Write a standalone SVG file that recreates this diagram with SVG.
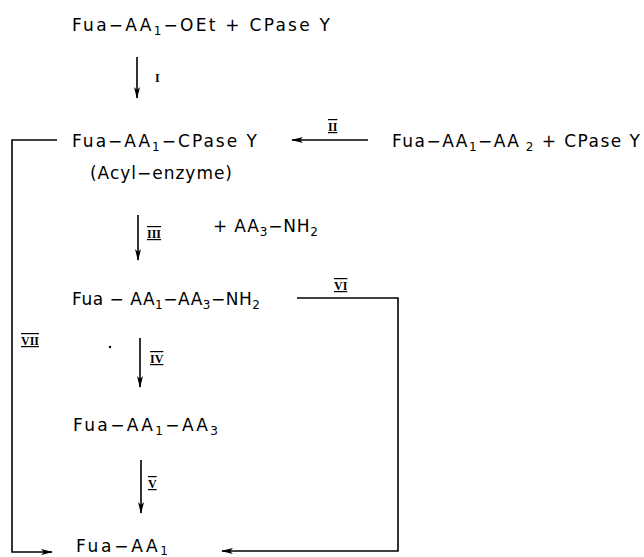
<svg xmlns="http://www.w3.org/2000/svg" width="644" height="557" viewBox="0 0 644 557">
<style>
.t{font-family:"DejaVu Sans","Liberation Sans",sans-serif;font-size:17px;fill:#000}
.s{font-size:12px}
.r{font-family:"Liberation Serif","DejaVu Serif",serif;font-size:12px;font-weight:bold;fill:#000}
.ln{fill:none;stroke:#000;stroke-width:1.6}
</style>
<defs>
<marker id="ah" viewBox="0 0 12 8" refX="11" refY="4" markerWidth="12" markerHeight="8" markerUnits="userSpaceOnUse" orient="auto">
<path d="M0,1 L12,4 L0,7 L3,4 Z" fill="#000"/>
</marker>
</defs>
<rect width="644" height="557" fill="#fff"/>
<g id="connectors">
<line class="ln" x1="137" y1="57" x2="137" y2="98" marker-end="url(#ah)"/>
<line class="ln" x1="368" y1="140" x2="292" y2="140" marker-end="url(#ah)"/>
<line class="ln" x1="138" y1="215" x2="138" y2="260" marker-end="url(#ah)"/>
<line class="ln" x1="140" y1="338" x2="140" y2="387" marker-end="url(#ah)"/>
<line class="ln" x1="141" y1="460" x2="141" y2="513" marker-end="url(#ah)"/>
<path class="ln" d="M57,140 H12 V552 H52" marker-end="url(#ah)"/>
<path class="ln" d="M297,298 H398 V551 H222" marker-end="url(#ah)"/>
<text class="r" x="155" y="82">I</text>
<text class="r" x="328" y="131" text-decoration="overline underline">II</text>
<text class="r" x="147" y="238" text-decoration="overline underline">III</text>
<text class="r" x="334" y="290" text-decoration="overline underline">VI</text>
<text class="r" x="21" y="345" text-decoration="overline underline">VII</text>
<text class="r" x="150" y="363" text-decoration="overline underline">IV</text>
<text class="r" x="148" y="488" text-decoration="overline underline">V</text>
<circle cx="110" cy="347" r="1.2" fill="#000"/>
</g>
<g id="n1"><text class="t" x="72" y="31" textLength="258" lengthAdjust="spacing">Fua−AA<tspan class="s" dy="4">1</tspan><tspan dy="-4">−OEt  +  CPase  Y</tspan></text></g>
<g id="n2"><text class="t" x="72" y="147" textLength="185" lengthAdjust="spacing">Fua−AA<tspan class="s" dy="4">1</tspan><tspan dy="-4">−CPase  Y</tspan></text>
<text class="t" x="90" y="179" textLength="142" lengthAdjust="spacing">(Acyl−enzyme)</text></g>
<g id="n3"><text class="t" x="392" y="147" textLength="248" lengthAdjust="spacing">Fua−AA<tspan class="s" dy="4">1</tspan><tspan dy="-4">−AA</tspan><tspan class="s" dy="4"> 2</tspan><tspan dy="-4"> + CPase  Y</tspan></text></g>
<g id="n4"><text class="t" x="213" y="232" textLength="105" lengthAdjust="spacing">+  AA<tspan class="s" dy="4">3</tspan><tspan dy="-4">−NH</tspan><tspan class="s" dy="4">2</tspan></text></g>
<g id="n5"><text class="t" x="72" y="305" textLength="188" lengthAdjust="spacing">Fua − AA<tspan class="s" dy="4">1</tspan><tspan dy="-4">−AA</tspan><tspan class="s" dy="4">3</tspan><tspan dy="-4">−NH</tspan><tspan class="s" dy="4">2</tspan></text></g>
<g id="n6"><text class="t" x="73" y="431" textLength="145" lengthAdjust="spacing">Fua−AA<tspan class="s" dy="4">1</tspan><tspan dy="-4">−AA</tspan><tspan class="s" dy="4">3</tspan></text></g>
<g id="n7"><text class="t" x="76" y="552" textLength="92" lengthAdjust="spacing">Fua−AA<tspan class="s" dy="3">1</tspan></text></g>
</svg>
